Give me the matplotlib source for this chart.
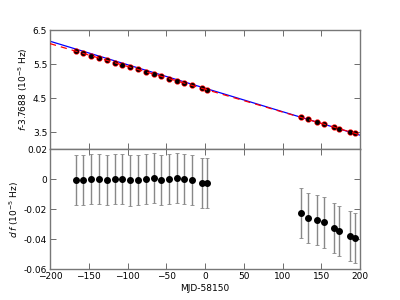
import matplotlib
matplotlib.use("Agg")
import matplotlib.pyplot as plt

# data
t_days = [-166.9, -157.0, -147.1, -136.8, -126.5, -116.6, -106.7, -96.3, -86.5,
          -75.7, -66.2, -56.3, -46.5, -36.6, -26.7, -16.3, -4.3, 3.0,
          123.5, 133.3, 144.9, 153.5, 166.0, 173.3, 187.5, 193.2]
f_vals = [5.88, 5.81, 5.75, 5.68, 5.61, 5.54, 5.47, 5.41, 5.34,
          5.27, 5.20, 5.14, 5.07, 5.01, 4.94, 4.87, 4.79, 4.74,
          3.93, 3.87, 3.79, 3.73, 3.65, 3.60, 3.50, 3.47]
df_vals = [-0.0005, -0.0007, 0.0000, 0.0002, -0.0005, -0.0002, 0.0000, -0.0009, -0.0007,
           -0.0002, 0.0009, -0.0007, 0.0002, 0.0007, -0.0002, -0.0005, -0.0025, -0.0025,
           -0.0225, -0.0260, -0.0271, -0.0289, -0.0325, -0.0345, -0.0380, -0.0391]
df_err = [0.0167] * len(t_days)

fit_x = [-200, 200]
fit_red = [6.10, 3.42]
fit_blue = [6.17, 3.41]

xticks = [-200, -150, -100, -50, 0, 50, 100, 150, 200]
top_yticks = [3.5, 4.5, 5.5, 6.5]
bot_yticks = [-0.06, -0.04, -0.02, 0.0, 0.02]
bot_ylabels = ["-0.06", "-0.04", "-0.02", "0", "0.02"]

fig = plt.figure(figsize=(4, 3), dpi=100)
ax1 = fig.add_axes([0.125, 0.503, 0.775, 0.397])
ax2 = fig.add_axes([0.125, 0.103, 0.775, 0.400])

ax1.plot(fit_x, fit_blue, color="blue", lw=0.9, zorder=2)
ax1.plot(t_days, f_vals, "o", color="red", ms=3.5, zorder=3)
ax1.plot(t_days, f_vals, "o", color="black", ms=3.5, zorder=4, markeredgewidth=0)
ax1.plot(fit_x, fit_red, color="red", lw=0.9, ls=(0, (5, 4)), zorder=5)
ax1.set_xlim(-200, 200)
ax1.set_ylim(3.0, 6.5)
ax1.set_xticks(xticks)
ax1.set_xticklabels([])
ax1.set_yticks(top_yticks)
ax1.set_yticklabels(["3.5", "4.5", "5.5", "6.5"])
ax1.set_ylabel(r"$f$-3.7688 ($10^{-5}$ Hz)", fontsize=6.5, labelpad=2)

ax2.errorbar(t_days, df_vals, yerr=df_err, fmt="o", color="black", ms=4,
             ecolor="#888888", elinewidth=1.0, capsize=1.5, capthick=0.6)
ax2.set_xlim(-200, 200)
ax2.set_ylim(-0.06, 0.02)
ax2.set_xticks(xticks)
ax2.set_yticks(bot_yticks)
ax2.set_yticklabels(bot_ylabels)
ax2.set_xlabel("MJD-58150", fontsize=6.5, labelpad=2)
ax2.set_ylabel(r"$d\,f$ ($10^{-5}$ Hz)", fontsize=6.5, labelpad=2)

for ax in (ax1, ax2):
    ax.tick_params(direction="in", top=True, right=True, labelsize=6.5,
                   length=4, width=0.6, color="#555555", pad=2)
    for s in ax.spines.values():
        s.set_color("#777777")
        s.set_linewidth(1.0)

fig.savefig("out.png", dpi=100)
